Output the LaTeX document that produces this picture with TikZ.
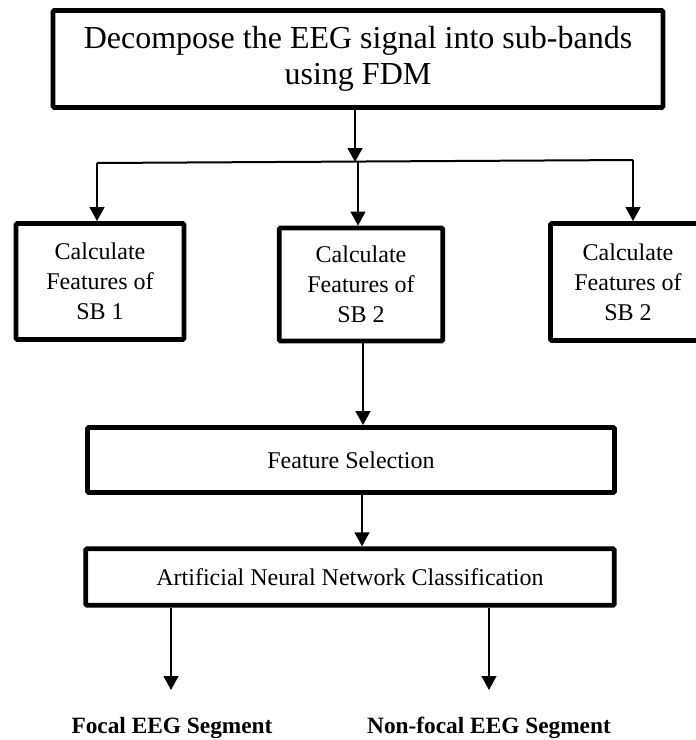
\documentclass[tikz,border=0pt]{standalone}
\usepackage{fontspec}
\setmainfont{Liberation Serif}
\usetikzlibrary{arrows.meta}
\begin{document}
\begin{tikzpicture}[x=0.75pt,y=-0.75pt,
  box/.style={draw=black,line width=3.6pt,rounded corners=1pt,inner sep=0pt,align=center,font=\fontsize{18}{22.5}\selectfont},
  bigbox/.style={box,font=\fontsize{24}{26.5}\selectfont},
  arr/.style={line width=1.7pt,-{Triangle[width=11pt,length=10.5pt]}},
  bus/.style={line width=1.5pt},
  outlabel/.style={font=\fontsize{17.5}{20}\selectfont\bfseries,inner sep=0pt}]
\useasboundingbox (0,0) rectangle (696,740);
\node[bigbox,minimum width=610*0.75pt,minimum height=97*0.75pt] (top) at (358,59)
  {Decompose the EEG signal into sub-bands\\using FDM};
\node[box,minimum width=168*0.75pt,minimum height=116*0.75pt] (sb1) at (100,281.5)
  {Calculate\\Features of\\SB 1};
\node[box,minimum width=163.5*0.75pt,minimum height=113*0.75pt] (sb2) at (361,284.5)
  {Calculate\\Features of\\SB 2};
\node[box,minimum width=155*0.75pt,minimum height=117*0.75pt] (sb3) at (628,282)
  {Calculate\\Features of\\SB 2};
\node[box,minimum width=527*0.75pt,minimum height=65*0.75pt] (fs) at (351,460)
  {Feature Selection};
\node[box,minimum width=528.5*0.75pt,minimum height=56.5*0.75pt] (ann) at (350,577)
  {Artificial Neural Network Classification};
\node[outlabel] (focal) at (172,728) {Focal EEG Segment};
\node[outlabel] (nonfocal) at (489,728) {Non-focal EEG Segment};
\coordinate (bl) at (97,163);
\coordinate (bm) at (355,162);
\coordinate (br) at (633,160);
\coordinate (fa) at (171,690);
\coordinate (na) at (489,690);
\draw[bus] (bl) -- (br);
\draw[arr] (top.south -| bm) -- (bm);
\draw[arr] (bl) -- (sb1.north -| bl);
\draw[arr] (bm -| 358,0) -- (sb2.north -| 358,0);
\draw[arr] (br) -- (sb3.north -| br);
\draw[arr] (sb2.south -| 363,0) -- (fs.north -| 363,0);
\draw[arr] (fs.south -| 362,0) -- (ann.north -| 362,0);
\draw[arr] (ann.south -| fa) -- (fa);
\draw[arr] (ann.south -| na) -- (na);
\end{tikzpicture}
\end{document}
